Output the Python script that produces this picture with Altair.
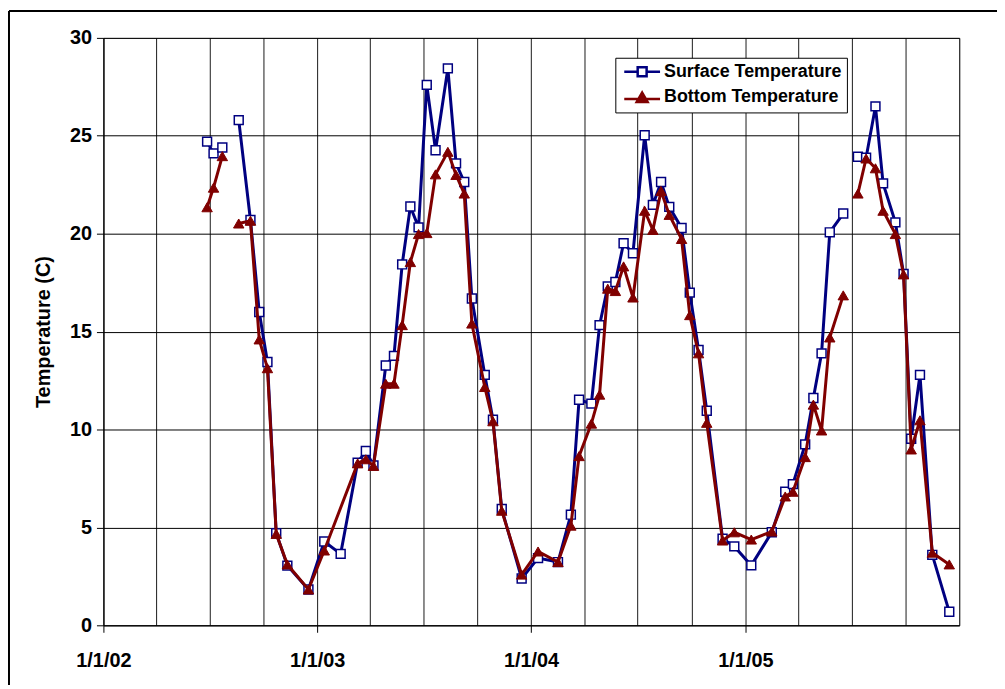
import altair as alt
import pandas as pd

S_NAME = "Surface Temperature"
B_NAME = "Bottom Temperature"
SERIES = [S_NAME, B_NAME]

# sampling dates (rows with both values missing break the lines)
dates = [
    "2002-06-27", "2002-07-08", "2002-07-23", "2002-08-06", "2002-08-20", "2002-09-09",
    "2002-09-24", "2002-10-08", "2002-10-23", "2002-11-11", "2002-12-17",
    "2003-01-13", "2003-02-10", "2003-03-11", "2003-03-25", "2003-04-07", "2003-04-28",
    "2003-05-12", "2003-05-26", "2003-06-09", "2003-06-23", "2003-07-07", "2003-07-22",
    "2003-08-12", "2003-08-26", "2003-09-09", "2003-09-22", "2003-10-14", "2003-10-28",
    "2003-11-12", "2003-12-16",
    "2004-01-13", "2004-02-16", "2004-03-09", "2004-03-23", "2004-04-13", "2004-04-27",
    "2004-05-11", "2004-05-24", "2004-06-07", "2004-06-23", "2004-07-13", "2004-07-27",
    "2004-08-10", "2004-08-24", "2004-09-14", "2004-09-28", "2004-10-13", "2004-10-27",
    "2004-11-23", "2004-12-13",
    "2005-01-11", "2005-02-15", "2005-03-10", "2005-03-23", "2005-04-13", "2005-04-27",
    "2005-05-11", "2005-05-25", "2005-06-17", "2005-06-30", "2005-07-12", "2005-07-26",
    "2005-08-11", "2005-08-24", "2005-09-14", "2005-09-28", "2005-10-11", "2005-10-26",
    "2005-11-16", "2005-12-15",
]

surface = [
    24.7, 24.1, 24.4, None, 25.8, 20.7, 16.0, 13.45, 4.7, 3.05, 1.83,
    4.28, 3.65, 8.31, 8.9, 8.17, 13.27, 13.76, 18.43, 21.39, 20.32, 27.6, 24.26,
    28.44, 23.59, 22.64, 16.69, 12.79, 10.5, 5.94, 2.39,
    3.43, 3.23, 5.65, 11.52, 11.32, 15.33, 17.31, 17.53, 19.51, 19.0, 25.03, 21.47,
    22.64, 21.37, 20.29, 16.99, 14.06, 10.96, 4.42, 4.03,
    3.06, 4.75, 6.82, 7.21, 9.24, 11.61, 13.89, 20.07, 21.03, None, 23.93, 23.88,
    26.5, 22.57, 20.58, 17.95, 9.53, 12.79, 3.6, 0.69,
]

bottom = [
    21.35, 22.35, 23.96, None, 20.52, 20.66, 14.6, 13.13, 4.67, 3.11, 1.83,
    3.82, None, 8.27, 8.48, 8.14, 12.34, 12.34, 15.33, 18.55, 19.98, 20.03, 23.03,
    24.18, 23.0, 22.05, 15.41, 12.17, 10.42, 5.85, 2.59,
    3.77, 3.23, 5.09, 8.64, 10.30, 11.78, 17.19, 17.07, 18.33, 16.74, 21.17, 20.19,
    22.18, 20.96, 19.73, 15.84, 13.89, 10.34, 4.33, 4.75,
    4.38, 4.79, 6.58, 6.82, 8.59, 11.27, 9.95, 14.70, 16.85, None, 22.05, 23.84,
    23.34, 21.17, 19.98, 17.92, 8.98, 10.47, 3.71, 3.11,
]

y_ticks = [0, 5, 10, 15, 20, 25, 30]

# ---- build long table ----
rows = []
seg = 0
for d, s, b in zip(dates, surface, bottom):
    if s is None and b is None:
        seg += 1
        continue
    if s is not None:
        rows.append({"date": d, "temp": s, "series": S_NAME, "seg": seg})
    if b is not None:
        rows.append({"date": d, "temp": b, "series": B_NAME, "seg": seg})
df = pd.DataFrame(rows)

NAVY = "#000080"
DRED = "#800000"
FONT = "Liberation Sans"

quarters = [alt.DateTime(year=y, month=m, date=1, utc=True)
            for y in range(2002, 2006) for m in (1, 4, 7, 10)]
quarters.append(alt.DateTime(year=2006, month=1, date=1, utc=True))
is_year = "utcmonth(datum.value) == 0 && utcyear(datum.value) < 2006"

x_enc = alt.X(
    "date:T",
    scale=alt.Scale(type="utc", nice=False,
                    domain=[alt.DateTime(year=2002, month=1, date=1, utc=True),
                            alt.DateTime(year=2006, month=1, date=1, utc=True)]),
    axis=alt.Axis(
        values=quarters,
        labelExpr=f"{is_year} ? utcFormat(datum.value, '%-m/%-d/%y') : ''",
        tickColor={"condition": {"test": is_year, "value": "black"}, "value": "transparent"},
        tickSize=7, grid=True, gridColor="#1a1a1a", gridWidth=1,
        domainColor="black", labelFont=FONT, labelFontSize=20, labelFontWeight="bold",
        labelColor="black", labelPadding=18, labelFlush=False, labelOverlap=False,
        labelAngle=0, title=None,
    ),
)
y_enc = alt.Y(
    "temp:Q",
    scale=alt.Scale(domain=[0, 30], nice=False),
    axis=alt.Axis(
        values=y_ticks, tickSize=7, tickColor="black", grid=True, gridColor="black",
        gridWidth=1, domainColor="black", labelFont=FONT, labelFontSize=20,
        labelFontWeight="bold", labelColor="black", labelPadding=5,
        title="Temperature (C)", titleFont=FONT, titleFontSize=20, titleFontWeight="bold",
        titleColor="black", titlePadding=16,
    ),
)

base = alt.Chart(df).encode(x=x_enc, y=y_enc)
surf = base.transform_filter(alt.datum.series == S_NAME)
bot = base.transform_filter(alt.datum.series == B_NAME)

surf_line = surf.mark_line(color=NAVY, strokeWidth=3).encode(detail="seg:N")
surf_pts = surf.mark_point(shape="square", size=80, filled=True, fill="white",
                           stroke=NAVY, strokeWidth=1.5, opacity=1)
bot_line = bot.mark_line(color=DRED, strokeWidth=3).encode(detail="seg:N")
bot_pts = bot.mark_point(shape="triangle-up", size=110, filled=True, fill=DRED,
                         stroke=DRED, strokeWidth=1, opacity=1)

# legend (symbols: line with marker)
SQ_PATH = "M-3.6,0L-0.9,0M0.9,0L3.6,0M-0.9,-0.9L0.9,-0.9L0.9,0.9L-0.9,0.9Z"
TRI_PATH = "M-3.6,0.3L3.6,0.3M0,-1L1.1,0.9L-1.1,0.9Z"
leg = alt.Legend(title=None, orient="none", legendX=515, legendY=20, symbolSize=100,
                 symbolStrokeWidth=2.5, symbolOffset=13, labelOffset=13, labelFont=FONT,
                 labelFontSize=18, labelFontWeight="bold", labelColor="black",
                 padding=5, rowPadding=6, strokeColor="black", fillColor="white",
                 labelLimit=400)
legend_df = pd.DataFrame({"series": SERIES})
legend_layer = alt.Chart(legend_df).mark_point(filled=True, opacity=1, strokeWidth=2).encode(
    shape=alt.Shape("series:N", scale=alt.Scale(domain=SERIES, range=[SQ_PATH, TRI_PATH]), legend=leg),
    fill=alt.Fill("series:N", scale=alt.Scale(domain=SERIES, range=["white", DRED]), legend=leg),
    stroke=alt.Stroke("series:N", scale=alt.Scale(domain=SERIES, range=[NAVY, DRED]), legend=leg),
).transform_filter("false")

# outer chart frame (top and left edges visible in the picture)
frame_df = pd.DataFrame({"k": [0]})
frame_top = alt.Chart(frame_df).mark_rule(color="black", strokeWidth=2).encode(
    x=alt.value(-95), x2=alt.value(899), y=alt.value(-27))
frame_left = alt.Chart(frame_df).mark_rule(color="black", strokeWidth=2).encode(
    x=alt.value(-95), y=alt.value(-27), y2=alt.value(651))

chart = alt.layer(
    frame_top, frame_left, surf_line, surf_pts, bot_line, bot_pts, legend_layer
).properties(
    width=861, height=591,
    padding={"left": 96, "top": 28, "right": 38, "bottom": 60},
    autosize=alt.AutoSizeParams(type="none"),
).configure_view(stroke="#808080", strokeWidth=1)

chart.save("out.html", embed_options={"renderer": "svg", "actions": False})
